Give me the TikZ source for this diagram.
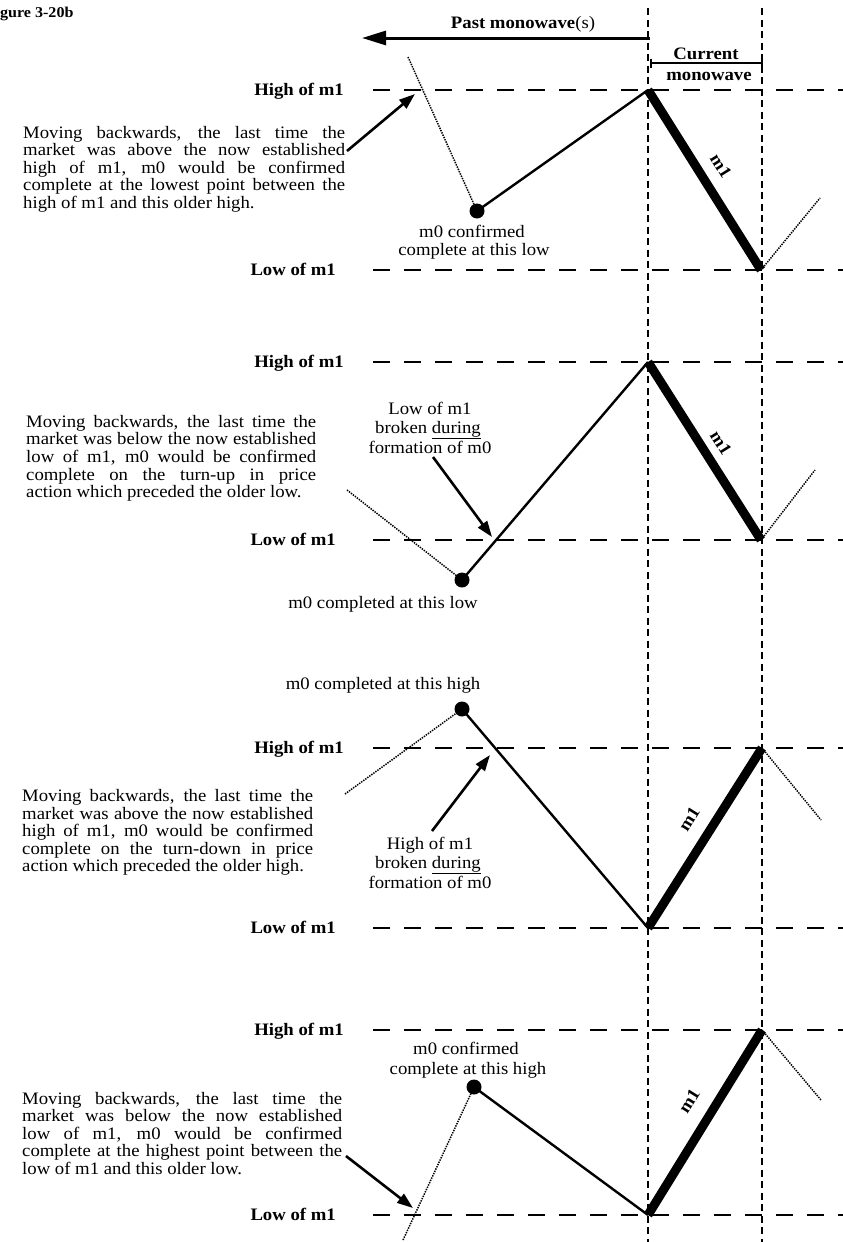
\documentclass[tikz,border=0pt]{standalone}
\usepackage{fontspec}
\setmainfont{Liberation Serif}[FakeStretch=1.07]
\usetikzlibrary{arrows.meta}
\newcommand\txtfont{\fontsize{17.5}{17.5}\selectfont}
\newcommand\bldfont{\fontsize{17.5}{17.5}\selectfont\bfseries}
\begin{document}
\begin{tikzpicture}[x=1pt,y=-1pt,
  hdash/.style={line width=1.8pt, dash pattern=on 17pt off 14pt},
  vdash/.style={line width=1.6pt, dash pattern=on 7pt off 4.5pt},
  dotl/.style={line width=1.5pt, dash pattern=on 1.4pt off 1.1pt},
  mzero/.style={line width=2.4pt},
  mone/.style={line width=9pt},
  arr/.style={line width=2.6pt, -{Triangle[length=16pt,width=11pt]}},
  bigarr/.style={line width=3pt, -{Triangle[length=24pt,width=14pt]}},
  dot/.style={circle, fill=black, inner sep=0pt, minimum size=15pt},
  txt/.style={inner sep=0pt, font=\txtfont},
  bld/.style={inner sep=0pt, font=\bldfont},
  hlab/.style={inner sep=0pt, font=\bldfont, anchor=base east},
  pl/.style={inner sep=0pt, font=\txtfont, anchor=base west},
  cl/.style={inner sep=0pt, font=\txtfont, anchor=base},
]
\useasboundingbox (0,0) rectangle (843,1242);

% ---------- header ----------
\node[inner sep=0pt, font=\fontsize{15}{15}\selectfont\bfseries, anchor=base west] (fig) at (0,17) {gure 3-20b};
\node[bld, anchor=base] (past) at (523,28) {Past monowave\textmd{(s)}};
\coordinate (pastR) at (650,38);
\coordinate (pastL) at (362,38);
\draw[bigarr] (pastR) -- (pastL);
\node[bld, anchor=base] (cur) at (706,59) {Current};
\node[bld, anchor=base] (mono) at (709,80) {monowave};
\coordinate (curL) at (650,63);
\coordinate (curR) at (763,63);
\draw[line width=2pt, {Bar[width=9pt]}-{Bar[width=9pt]}] (curL) -- (curR);

% ---------- vertical dashed lines ----------
\coordinate (vLt) at (648,8);  \coordinate (vLb) at (648,1242);
\coordinate (vRt) at (762,8);  \coordinate (vRb) at (762,1242);
\draw[vdash] (vLt) -- (vLb);
\draw[vdash] (vRt) -- (vRb);

% ---------- horizontal levels ----------
\foreach \y/\n in {90/a,270/b,362/c,540/d,748/e,928/f,1030/g,1215/h}{
  \coordinate (hs\n) at (373,\y);
  \coordinate (he\n) at (843,\y);
  \draw[hdash] (hs\n) -- (he\n);
}
\node[hlab] (h1) at (344,95.5) {High of m1};
\node[hlab] (l1) at (336,275.5) {Low of m1};
\node[hlab] (h2) at (344,367.5) {High of m1};
\node[hlab] (l2) at (336,545.5) {Low of m1};
\node[hlab] (h3) at (344,753.5) {High of m1};
\node[hlab] (l3) at (336,933.5) {Low of m1};
\node[hlab] (h4) at (344,1035.5) {High of m1};
\node[hlab] (l4) at (336,1220.5) {Low of m1};

% ---------- panel 1 ----------
\node[pl] (p1a) at (23,138.3) {\makebox[322pt][s]{Moving backwards, the last time the}};
\node[pl] (p1b) at (23,155.8) {\makebox[322pt][s]{market was above the now established}};
\node[pl] (p1c) at (23,173.3) {\makebox[322pt][s]{high of m1, m0 would be confirmed}};
\node[pl] (p1d) at (23,190.8) {\makebox[322pt][s]{complete at the lowest point between the}};
\node[pl] (p1e) at (23,208.3) {high of m1 and this older high.};
\coordinate (A1t) at (408,57);
\node[dot] (d1) at (477,211) {};
\coordinate (A1p) at (648,90);
\coordinate (A1e) at (761,270);
\coordinate (A1r) at (820,198);
\draw[dotl] (A1t) -- (d1.center);
\draw[mzero] (d1.center) -- (A1p);
\draw[mone] (A1p) -- (A1e);
\draw[dotl] (A1e) -- (A1r);
\node[bld, rotate=-58] (m1a) at (721,166) {m1};
\node[cl] (c1a) at (472,237) {m0 confirmed};
\node[cl] (c1b) at (474,255) {complete at this low};
\coordinate (ar1s) at (347,151);
\coordinate (ar1e) at (415,94);
\draw[arr] (ar1s) -- (ar1e);

% ---------- panel 2 ----------
\node[pl] (p2a) at (26,427.3) {\makebox[290pt][s]{Moving backwards, the last time the}};
\node[pl] (p2b) at (26,444.9) {\makebox[290pt][s]{market was below the now established}};
\node[pl] (p2c) at (26,462.5) {\makebox[290pt][s]{low of m1, m0 would be confirmed}};
\node[pl] (p2d) at (26,480.1) {\makebox[290pt][s]{complete on the turn-up in price}};
\node[pl] (p2e) at (26,497.7) {action which preceded the older low.};
\coordinate (B1t) at (347,490);
\node[dot] (d2) at (462,580) {};
\coordinate (B1p) at (648,362);
\coordinate (B1e) at (761,540);
\coordinate (B1r) at (815,470);
\draw[dotl] (B1t) -- (d2.center);
\draw[mzero] (d2.center) -- (B1p);
\draw[mone] (B1p) -- (B1e);
\draw[dotl] (B1e) -- (B1r);
\node[bld, rotate=-58] (m1b) at (721,443) {m1};
\node[cl] (c2a) at (430,414) {Low of m1};
\node[cl] (c2b) at (428,433.5) {broken \underline{during}};
\node[cl] (c2c) at (430,453) {formation of m0};
\node[cl] (c2d) at (383,608) {m0 completed at this low};
\coordinate (ar2s) at (433,457);
\coordinate (ar2e) at (492,537);
\draw[arr] (ar2s) -- (ar2e);

% ---------- panel 3 ----------
\node[pl] (p3a) at (22,801.7) {\makebox[291pt][s]{Moving backwards, the last time the}};
\node[pl] (p3b) at (22,819.2) {\makebox[291pt][s]{market was above the now established}};
\node[pl] (p3c) at (22,836.7) {\makebox[291pt][s]{high of m1, m0 would be confirmed}};
\node[pl] (p3d) at (22,854.2) {\makebox[291pt][s]{complete on the turn-down in price}};
\node[pl] (p3e) at (22,871.7) {action which preceded the older high.};
\coordinate (C1t) at (345,794);
\node[dot] (d3) at (462,709) {};
\coordinate (C1p) at (648,928);
\coordinate (C1e) at (762,748);
\coordinate (C1r) at (821,820);
\draw[dotl] (C1t) -- (d3.center);
\draw[mzero] (d3.center) -- (C1p);
\draw[mone] (C1p) -- (C1e);
\draw[dotl] (C1e) -- (C1r);
\node[bld, rotate=58] (m1c) at (689,819) {m1};
\node[cl] (c3d) at (383,689) {m0 completed at this high};
\node[cl] (c3a) at (430,849) {High of m1};
\node[cl] (c3b) at (428,868.5) {broken \underline{during}};
\node[cl] (c3c) at (430,888) {formation of m0};
\coordinate (ar3s) at (432,831);
\coordinate (ar3e) at (490,755);
\draw[arr] (ar3s) -- (ar3e);

% ---------- panel 4 ----------
\node[pl] (p4a) at (22,1104.3) {\makebox[320pt][s]{Moving backwards, the last time the}};
\node[pl] (p4b) at (22,1121.8) {\makebox[320pt][s]{market was below the now established}};
\node[pl] (p4c) at (22,1139.3) {\makebox[320pt][s]{low of m1, m0 would be confirmed}};
\node[pl] (p4d) at (22,1156.8) {\makebox[320pt][s]{complete at the highest point between the}};
\node[pl] (p4e) at (22,1174.3) {low of m1 and this older low.};
\coordinate (D1t) at (403,1240);
\node[dot] (d4) at (474,1087) {};
\coordinate (D1p) at (648,1215);
\coordinate (D1e) at (762,1030);
\coordinate (D1r) at (821,1100);
\draw[dotl] (D1t) -- (d4.center);
\draw[mzero] (d4.center) -- (D1p);
\draw[mone] (D1p) -- (D1e);
\draw[dotl] (D1e) -- (D1r);
\node[bld, rotate=58] (m1d) at (689,1101) {m1};
\node[cl] (c4a) at (466,1054) {m0 confirmed};
\node[cl] (c4b) at (468,1074) {complete at this high};
\coordinate (ar4s) at (346,1156);
\coordinate (ar4e) at (413,1208);
\draw[arr] (ar4s) -- (ar4e);
\end{tikzpicture}
\end{document}
